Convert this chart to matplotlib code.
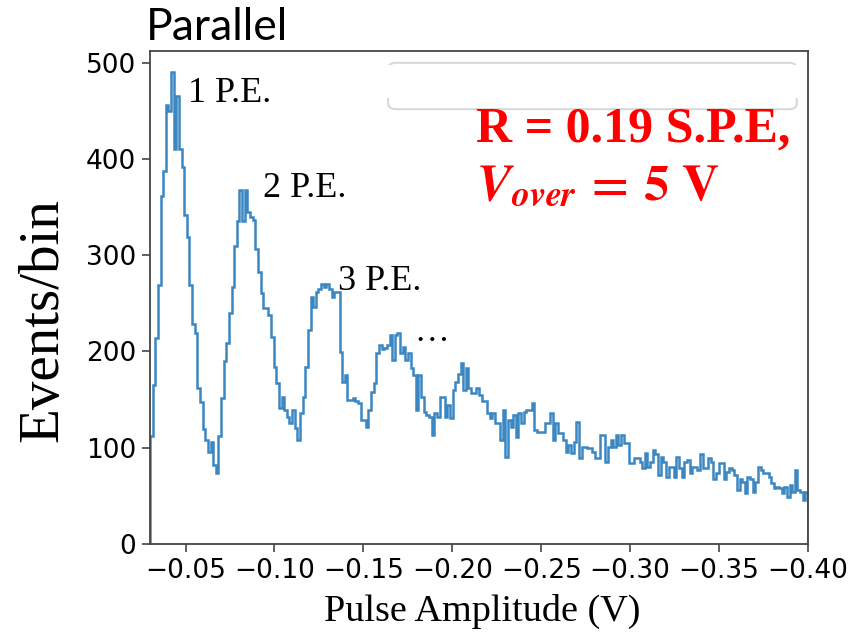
import numpy as np
import matplotlib
matplotlib.use("Agg")
import matplotlib.pyplot as plt
from matplotlib.patches import FancyBboxPatch, Rectangle

# counts per bin, going from -0.03 V towards -0.40 V
counts = [112, 165, 214, 269, 361, 387, 456, 450, 490, 410,
          465, 410, 392, 342, 319, 269, 228, 219, 162, 147,
          119, 108, 96, 106, 82, 74, 112, 152, 190, 209,
          240, 267, 309, 335, 368, 335, 368, 345, 340, 337,
          306, 282,
          261, 245, 245, 238, 215, 184, 167, 141, 153, 139,
          132, 126, 139, 120, 108, 136, 153, 184, 222, 257,
          246, 262, 265, 270, 267, 270, 265, 257, 262, 262,
          199, 168, 176, 150, 150, 152, 148, 146, 129, 129,
          121, 139, 158, 167, 198, 207, 202, 204, 207, 217,
          191, 217, 219, 198, 205, 191, 198, 183, 176, 139,
          176, 153, 137, 134, 132, 113, 136, 132, 153, 153,
          132, 144, 131, 160, 168, 177, 188, 160, 183, 162,
          157, 157,
          162, 155, 148, 148, 136, 131, 136, 126, 126, 108,
          139, 90, 129, 121, 134, 111, 136, 126, 137, 139,
          139, 146, 118, 116, 116, 116, 126, 126, 136, 108,
          126, 115, 115, 108, 96, 103, 95, 106, 127, 89,
          101, 101,
          100, 100, 96, 89, 89, 113, 113, 85, 101, 108,
          101, 113, 103, 113, 105, 105, 84, 84, 89, 89,
          85, 79, 95, 80, 85, 98, 93, 72, 90, 85,
          70, 80, 80, 70, 90, 79, 70, 85, 87, 74,
          80, 80,
          77, 93, 79, 79, 89, 85, 67, 74, 84, 84,
          67, 75, 79, 77, 72, 56, 68, 64, 53, 70,
          68, 54, 64, 80, 77, 74, 74, 70, 63, 58,
          59, 58, 53, 59, 49, 61, 54, 77, 56, 54,
          46, 54]
x_range = (-0.03, -0.40)
x_ticks = [-0.05, -0.10, -0.15, -0.20, -0.25, -0.30, -0.35, -0.40]
y_ticks = [0, 100, 200, 300, 400, 500]
peak_labels = ["1 P.E.", "2 P.E.", "3 P.E."]

serif = "Liberation Serif"

fig = plt.figure(figsize=(8.61, 6.38), dpi=100)
W, H = 861, 638
ax = fig.add_axes([150 / W, 1 - 544 / H, 658 / W, 493 / H])

edges = np.linspace(x_range[1], x_range[0], len(counts) + 1)
ax.stairs(counts[::-1], edges, color="#3a87c2", linewidth=1.8)

ax.set_xlim(x_range)
ax.set_ylim(0, 512)
ax.set_xticks(x_ticks)
ax.set_xticklabels([f"{t:.2f}".replace("-", "\u2212") for t in x_ticks])
ax.set_yticks(y_ticks)
for s in ax.spines.values():
    s.set_color("#444444")
    s.set_linewidth(1.3)
ax.tick_params(length=6, width=1.2, color="#444444", labelsize=19, pad=4)

# faint legend frame in the upper right
frame = FancyBboxPatch((0.362, 0.882), 0.621, 0.094, boxstyle="round,pad=0,rounding_size=0.012",
                       transform=ax.transAxes, facecolor="white", edgecolor="#d8d8d8", linewidth=1.5)
ax.add_patch(frame)
ax.add_patch(Rectangle((0.35, 0.905), 0.645, 0.066, transform=ax.transAxes,
                       facecolor="white", edgecolor="none"))

def px(x, y):
    return x / W, 1 - y / H

fig.text(*px(146, 28), "Parallel", ha="left", va="center", fontsize=32, family="Lato")
fig.text(*px(482, 611), "Pulse Amplitude (V)", ha="center", va="center", fontsize=27.5, family=serif)
fig.text(*px(43, 320), "Events/bin", ha="center", va="center", rotation=90, fontsize=41, family=serif)

fig.text(*px(188, 94), peak_labels[0], ha="left", va="center", fontsize=26, family=serif)
fig.text(*px(263, 189), peak_labels[1], ha="left", va="center", fontsize=26, family=serif)
fig.text(*px(338, 282), peak_labels[2], ha="left", va="center", fontsize=26, family=serif)
fig.text(*px(432, 332), "\u2026", ha="center", va="center", fontsize=25, family=serif)

fig.text(*px(476, 130), "R = 0.19 S.P.E,", ha="left", va="center", fontsize=36,
         family=serif, fontweight="bold", color="red")
fig.text(*px(476, 186), r"$\mathbfit{V}_{\mathbfit{over}}\,\mathbf{=\,5\ V}$", ha="left", va="center",
         fontsize=37, color="red", math_fontfamily="stix")

fig.savefig("out.png", dpi=100)
